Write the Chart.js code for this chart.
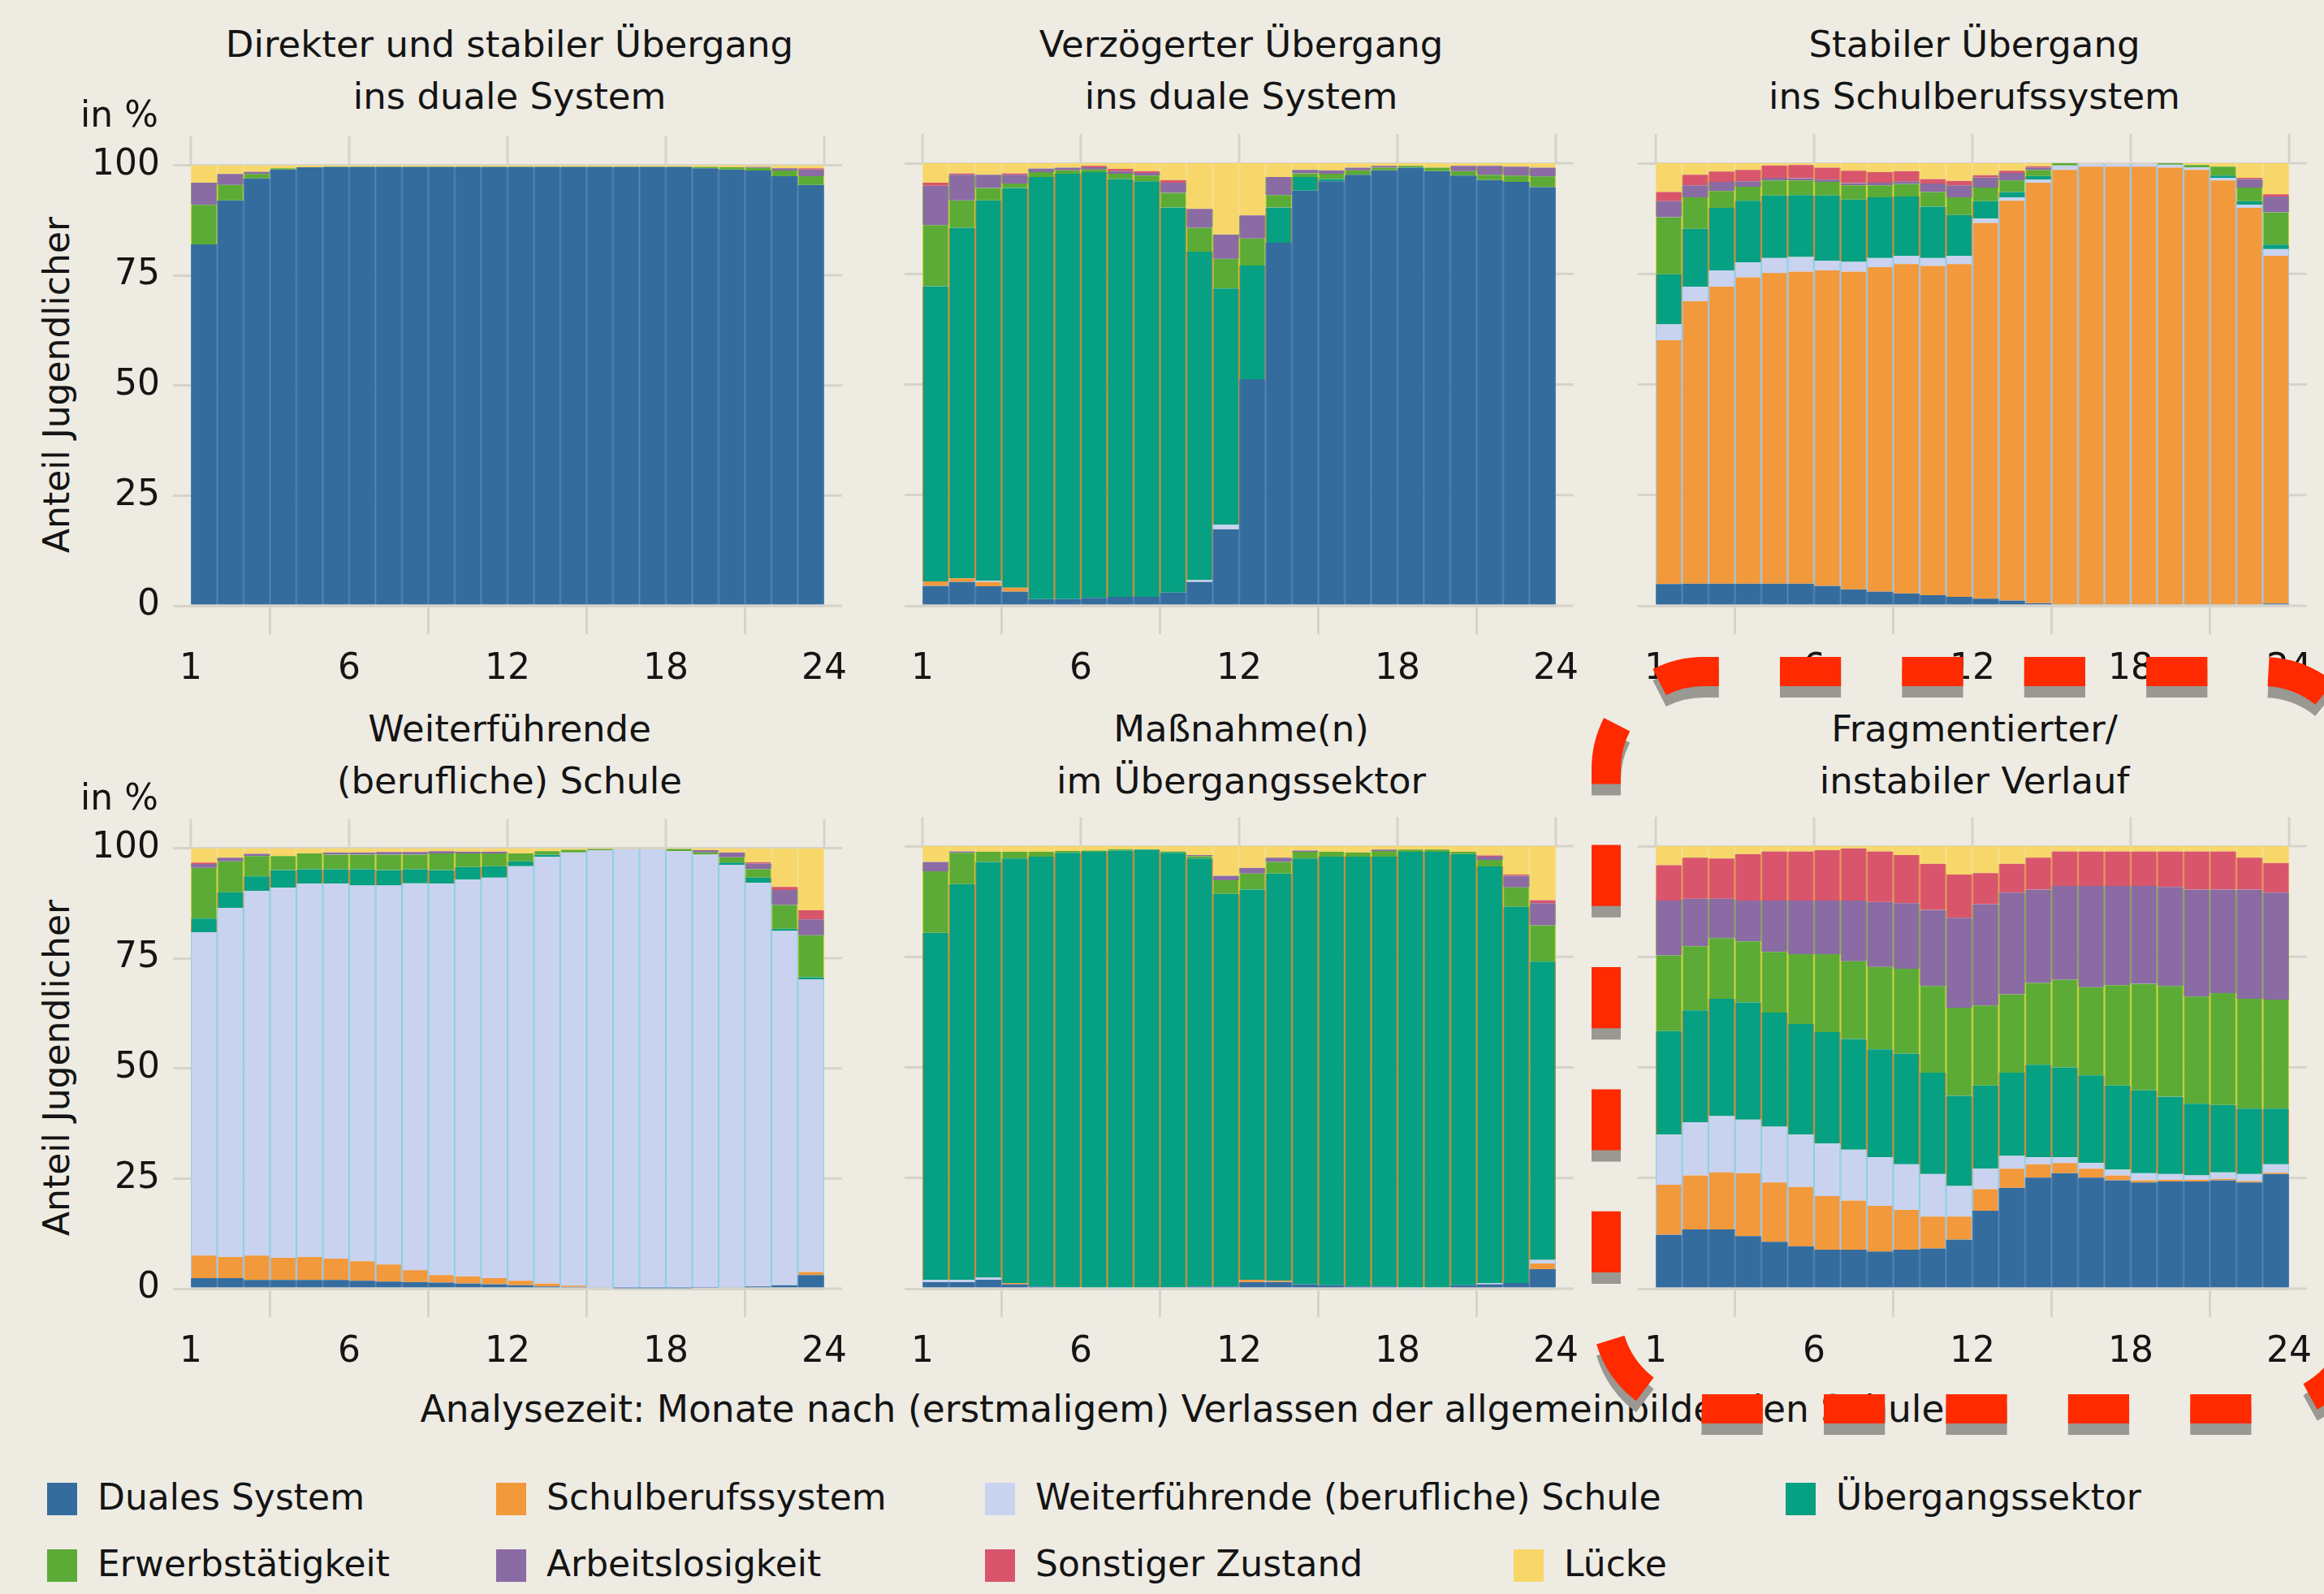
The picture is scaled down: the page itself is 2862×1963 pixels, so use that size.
<!DOCTYPE html>
<html>
<head>
<meta charset="utf-8">
<script src="https://cdn.jsdelivr.net/npm/chart.js@4.4.0/dist/chart.umd.min.js"></script>
<style>
  body { margin: 0; width: 2862px; height: 1963px; overflow: hidden; position: relative;
         background: #eeebe3; font-family: 'DejaVu Sans', sans-serif; color: #141414; }
  canvas { position: absolute; }
  .title { position: absolute; font-size: 45px; line-height: 64px; text-align: center;
           white-space: nowrap; transform: translateX(-50%); }
  .lbl { position: absolute; font-size: 44px; white-space: nowrap; }
  .key { position: absolute; width: 37px; height: 40px; }
</style>
</head>
<body>
<script>
// categories (bottom to top of each stack)
const categories = ['Duales System', 'Schulberufssystem', 'Weiterführende (berufliche) Schule',
  'Übergangssektor', 'Erwerbstätigkeit', 'Arbeitslosigkeit', 'Sonstiger Zustand', 'Lücke'];
const colors = ['#356c9e', '#f2993b', '#c9d3f0', '#06a082', '#5bab36', '#8a6ba3', '#d9556b', '#f7d769'];
const seams  = ['#4a7db0', '#a3c4df', '#8fd0e6', '#c28c3e', '#c4cf3c', '#8f9c68', '#e3925a', '#f3de86'];

const tickEdges = [0, 6, 12, 18, 24];
const tickLabels = ['1', '6', '12', '18', '24'];

// shares in % per month 1..24
// 1: Direkter und stabiler Übergang ins duale System
const direktDual    = [82,92,97,99,99.5,99.6,99.6,99.6,99.6,99.6,99.6,99.6,99.6,99.6,99.6,99.6,99.6,99.6,99.6,99.3,99,98.8,97.5,95.5];
const direktSchul   = [0,0,0,0,0,0,0,0,0,0,0,0,0,0,0,0,0,0,0,0,0,0,0,0];
const direktWeiter  = [0,0,0,0,0,0,0,0,0,0,0,0,0,0,0,0,0,0,0,0,0,0,0,0];
const direktUeberg  = [0,0,0,0,0,0,0,0,0,0,0,0,0,0,0,0,0,0,0,0,0,0,0,0];
const direktErwerb  = [9,3.5,1,0.3,0,0.1,0.1,0.1,0.1,0.1,0.1,0.1,0.1,0.1,0.1,0.1,0.1,0.1,0.1,0.3,0.5,0.6,1.3,2];
const direktArblos  = [5,2.5,0.5,0,0,0,0,0,0,0,0,0,0,0,0,0,0,0,0,0,0,0.2,0.5,1.5];
const direktSonst   = [0,0,0,0,0,0,0,0,0,0,0,0,0,0,0,0,0,0,0,0,0,0,0,0.3];
const direktLuecke  = [4,2,1.5,0.7,0.5,0.3,0.3,0.3,0.3,0.3,0.3,0.3,0.3,0.3,0.3,0.3,0.3,0.3,0.3,0.4,0.5,0.4,0.7,0.7];

// 2: Verzögerter Übergang ins duale System
const verzDual    = [4.5,5.4,4.4,3.2,1.5,1.5,1.8,2,2,3,5.4,17.3,51.2,82,93.8,95.9,97.4,98.4,99,98.2,97.2,96.2,95.8,94.6];
const verzSchul   = [1,0.8,1,0.9,0,0,0,0,0,0,0,0,0,0,0,0,0,0,0,0,0,0,0,0];
const verzWeiter  = [0,0,0.3,0,0,0,0,0,0,0,0.4,1,0,0,0,0,0,0,0,0,0,0,0,0];
const verzUeberg  = [66.7,79.2,85.9,90.3,95.4,96.1,96.2,94.4,93.9,87,74.2,53.4,25.7,8,3.1,0.5,0,0,0,0,0,0,0,0];
const verzErwerb  = [13.8,6.2,2.8,1,1.1,0.8,0.6,1.2,1.3,3.3,5.4,6.7,6.1,2.8,0.8,1.2,1,0.6,0.4,0.8,1,1.2,1.4,2.4];
const verzArblos  = [8.9,5.8,3,2,0.8,0.6,0.5,0.6,0.6,2.3,4.3,5.5,5.2,4.1,0.8,0.8,0.6,0.4,0,0,1.2,2,2,2];
const verzSonst   = [0.7,0.3,0,0.3,0,0,0.3,0.5,0.4,0.6,0,0,0,0,0,0,0,0,0,0,0,0,0,0];
const verzLuecke  = [4.4,2.3,2.6,2.3,1.2,1,0.6,1.3,1.8,3.8,10.3,16.1,11.8,3.1,1.5,1.6,1,0.6,0.6,1,0.6,0.6,0.8,1];

// 3: Stabiler Übergang ins Schulberufssystem
const schulbDual    = [4.9,5,5,5,5,5,4.5,3.7,3.2,2.8,2.4,2,1.6,1.2,0.6,0.3,0.3,0.3,0.3,0.3,0.3,0.3,0.3,0.5];
const schulbSchul   = [55.1,63.8,67.1,69.2,70.2,70.5,71.3,71.8,73.3,74.4,74.4,75.2,84.9,90.3,95,98.2,98.9,98.9,98.9,98.7,98.2,95.8,89.6,78.6];
const schulbWeiter  = [3.6,3.3,3.7,3.4,3.4,3.3,2.2,2.2,2.1,1.9,1.8,1.9,1,0.8,0.7,1,0.7,0.7,0.7,0.7,0.6,0.6,0.7,1.5];
const schulbUeberg  = [11.3,13.1,14.1,13.9,14.1,14,14.7,14.1,13.7,13.4,11.6,9.2,3.9,1.2,0.8,0,0,0,0,0,0,0.5,0.8,1];
const schulbErwerb  = [12.9,7.1,3.8,3.2,3.4,3.3,3.1,3.2,2.7,2.8,3.3,4,3.1,2.6,1.4,0.5,0,0,0,0.3,0.5,2,3.1,7.3];
const schulbArblos  = [3.6,2.7,2.1,1.2,0.6,0.5,0.5,0.5,0.6,0.6,1.9,2.7,2.3,1.7,0.5,0,0,0,0,0,0,0,1.9,3.6];
const schulbSonst   = [2.1,2.4,2.3,2.6,2.8,3,2.7,2.8,2.4,2.3,1,1,0.5,0.5,0.3,0,0,0,0,0,0,0,0.3,0.5];
const schulbLuecke  = [6.5,2.6,1.9,1.5,0.5,0.4,1,1.7,2,1.8,3.6,4,2.7,1.7,0.7,0,0.1,0.1,0.1,0,0.4,0.8,3.3,7];

// 4: Weiterführende (berufliche) Schule
const weiterDual    = [2.4,2.4,2,2,2,2,1.8,1.6,1.5,1.4,1.2,1,0.8,0.5,0.4,0.3,0.1,0.1,0.1,0.2,0.3,0.5,0.8,3.1];
const weiterSchul   = [5.1,4.8,5.5,5,5.2,4.8,4.4,3.9,2.7,1.7,1.6,1.4,1,0.7,0.3,0,0,0,0,0,0,0,0,0.7];
const weiterWeiter  = [73.4,79.2,82.8,84,84.7,85.1,85.3,86,87.8,88.8,90.1,90.9,94.1,96.8,98.3,99.2,99.7,99.7,99.2,98.3,95.9,91.6,80.4,66.4];
const weiterUeberg  = [3.1,3.6,3.3,4,3.3,3.3,3.7,3.5,3.2,3.1,2.8,2.6,1.1,0.5,0,0,0,0,0,0,0.5,1.2,0.5,0.5];
const weiterErwerb  = [11.5,7,4.6,3.2,3.6,3.3,3.3,3.5,3.3,3.8,3.1,2.9,1.8,0.8,0.6,0.3,0,0,0.5,0.5,1.2,1.9,5.4,9.5];
const weiterArblos  = [0.9,0.8,0.5,0,0,0.5,0.5,0.6,0.6,0.5,0.4,0.4,0,0,0,0,0,0,0,0.5,1.1,1.3,3.4,3.6];
const weiterSonst   = [0.3,0,0,0,0,0,0,0,0,0,0,0,0,0,0,0,0,0,0,0,0,0.3,0.7,2.1];
const weiterLuecke  = [3.3,2.2,1.3,1.8,1.2,1,1,0.9,0.9,0.7,0.8,0.8,1.2,0.7,0.4,0.2,0.2,0.2,0.2,0.5,1,3.2,8.8,14.1];

// 5: Maßnahme(n) im Übergangssektor
const massDual    = [1.5,1.5,2,1,0.5,0.3,0,0,0,0.3,0.5,0.5,1.5,1.5,1,0.8,0.5,0.5,0.3,0.3,0.8,1,1.3,4.4];
const massSchul   = [0,0,0,0.3,0,0,0,0,0,0,0,0,0.5,0.3,0,0,0,0,0,0,0,0,0,1.3];
const massWeiter  = [0.5,0.5,0.5,0,0,0,0,0,0,0,0,0,0,0,0,0,0,0,0,0,0,0.3,0,0.8];
const massUeberg  = [78.4,89.4,93.9,95.9,97.1,98.2,98.7,99,99.2,98.2,96.7,88.7,88.2,92,96.2,96.8,97.1,97.1,98.4,98.4,97.4,94.1,85,67.4];
const massErwerb  = [13.9,7.1,2.3,1.5,1.1,0.4,0.3,0.3,0,0.3,0.5,3.1,3.6,2.6,1.5,1.1,1,1.3,0.5,0.5,0.5,1.5,4.4,8.2];
const massArblos  = [2.1,0.3,0,0,0,0,0,0,0,0,0.3,1,1.3,1,0.3,0,0,0.3,0,0,0,0.7,2.6,5];
const massSonst   = [0,0,0,0,0,0,0,0,0,0,0,0,0,0,0,0,0,0,0,0,0,0.3,0.3,0.7];
const massLuecke  = [3.6,1.2,1.3,1.3,1.3,1.1,1,0.7,0.8,1.2,2,6.7,4.9,2.6,1,1.3,1.4,0.8,0.8,0.8,1.3,2.1,6.4,12.2];

// 6: Fragmentierter/instabiler Verlauf
const fragDual    = [12.2,13.4,13.4,11.9,10.6,9.6,8.8,8.8,8.4,8.8,9.1,11.1,17.6,22.8,25.1,26.1,25.1,24.5,24,24.2,24.2,24.5,24,25.9];
const fragSchul   = [11.3,12.2,12.9,14.2,13.4,13.4,12.1,11.1,10.3,9,7.2,5.2,4.9,4.3,3,2.3,2,1.1,0.5,0.4,0.4,0.3,0.3,0.3];
const fragWeiter  = [11.3,12,12.7,12.1,12.6,11.8,11.9,11.5,11,10.3,9.6,6.9,4.6,2.9,1.6,1.3,1.3,1.3,1.6,1.3,1,1.5,1.6,1.9];
const fragUeberg  = [23.4,25.3,26.5,26.5,25.8,25,25.2,25,24.4,25,22.9,20.4,18.8,18.8,20.9,20.3,19.8,19,18.7,17.5,16.2,15.2,14.8,12.6];
const fragErwerb  = [17.1,14.5,13.7,13.8,13.7,15.8,17.6,17.6,18.6,19.2,19.6,19.9,18.1,17.7,18.5,19.8,19.9,22.7,24.1,25,24.2,25.3,24.8,24.6];
const fragArblos  = [12.4,10.7,8.9,9.2,11.6,12.1,12.1,13.7,14.7,14.8,17.2,20.3,22.9,23,21.1,21.2,22.9,22.4,22.1,22.4,24.2,23.4,24.7,24.2];
const fragSonst   = [8,9.3,9.1,10.5,11.1,11.1,11.4,11.8,11.4,10.9,10.4,9.8,7,6.5,7.2,7.8,7.8,7.8,7.8,8,8.6,8.6,7.2,6.7];
const fragLuecke  = [4.3,2.6,2.8,1.8,1.2,1.2,0.9,0.5,1.2,2,4,6.4,6.1,4,2.6,1.2,1.2,1.2,1.2,1.2,1.2,1.2,2.6,3.8];

const panelTitles = [
  ['Direkter und stabiler Übergang', 'ins duale System'],
  ['Verzögerter Übergang', 'ins duale System'],
  ['Stabiler Übergang', 'ins Schulberufssystem'],
  ['Weiterführende', '(berufliche) Schule'],
  ['Maßnahme(n)', 'im Übergangssektor'],
  ['Fragmentierter/', 'instabiler Verlauf']
];
const panelSeries = [
  [direktDual, direktSchul, direktWeiter, direktUeberg, direktErwerb, direktArblos, direktSonst, direktLuecke],
  [verzDual, verzSchul, verzWeiter, verzUeberg, verzErwerb, verzArblos, verzSonst, verzLuecke],
  [schulbDual, schulbSchul, schulbWeiter, schulbUeberg, schulbErwerb, schulbArblos, schulbSonst, schulbLuecke],
  [weiterDual, weiterSchul, weiterWeiter, weiterUeberg, weiterErwerb, weiterArblos, weiterSonst, weiterLuecke],
  [massDual, massSchul, massWeiter, massUeberg, massErwerb, massArblos, massSonst, massLuecke],
  [fragDual, fragSchul, fragWeiter, fragUeberg, fragErwerb, fragArblos, fragSonst, fragLuecke]
];

// layout of plot areas (page pixels)
const colX = [235, 1136, 2039];
const rowY = [201, 1042];
const plotW = 785, plotH = 545;
const PAD_L = 140, PAD_R = 40, PAD_T = 40, PAD_B = 120;
const GRID = '#d6d3cb';

Chart.defaults.font.family = "'DejaVu Sans', sans-serif";
Chart.defaults.font.size = 44;
Chart.defaults.color = '#141414';

// grid lines stick out a bit above and to the right of the plot
const gridOut = {
  id: 'gridOut',
  beforeDatasetsDraw(chart) {
    const { ctx, chartArea: a, scales: { x, y } } = chart;
    ctx.save();
    ctx.strokeStyle = GRID;
    ctx.lineWidth = 3;
    ctx.beginPath();
    x.ticks.forEach(t => {
      const px = x.getPixelForValue(t.value);
      ctx.moveTo(px, a.top - 36); ctx.lineTo(px, a.top);
    });
    y.ticks.forEach(t => {
      const py = y.getPixelForValue(t.value);
      ctx.moveTo(a.right, py); ctx.lineTo(a.right + 22, py);
    });
    ctx.stroke();
    ctx.restore();
  }
};

function addText(cls, text, css) {
  const d = document.createElement('div');
  d.className = cls;
  d.innerHTML = text;
  Object.assign(d.style, css);
  document.body.appendChild(d);
  return d;
}

panelSeries.forEach((series, p) => {
  const col = p % 3, row = Math.floor(p / 3);
  const px = colX[col], py = rowY[row];
  const showY = col === 0;

  const cv = document.createElement('canvas');
  cv.width = plotW + PAD_L + PAD_R;
  cv.height = plotH + PAD_T + PAD_B;
  cv.style.left = (px - PAD_L) + 'px';
  cv.style.top = (py - PAD_T) + 'px';
  document.body.appendChild(cv);

  new Chart(cv, {
    type: 'bar',
    data: {
      datasets: categories.map((name, k) => ({
        label: name,
        data: series[k].map((v, i) => ({ x: i + 0.5, y: v })),
        backgroundColor: colors[k],
        borderColor: seams[k],
        borderWidth: { left: 1.5, right: 1.5, top: 0, bottom: 0 },
        borderSkipped: false,
        barPercentage: 1,
        categoryPercentage: 1
      }))
    },
    options: {
      responsive: false,
      animation: false,
      layout: { padding: { top: PAD_T, right: PAD_R, left: 0, bottom: 0 } },
      plugins: { legend: { display: false }, tooltip: { enabled: false } },
      scales: {
        x: {
          type: 'linear', stacked: true, min: 0, max: 24, offset: false,
          afterBuildTicks: s => { s.ticks = tickEdges.map(v => ({ value: v })); },
          afterFit: s => { s.height = PAD_B; },
          ticks: { callback: (v, i) => tickLabels[i], maxRotation: 0, autoSkip: false, padding: 17 },
          grid: { color: GRID, lineWidth: 3, tickLength: 35 },
          border: { display: false }
        },
        y: {
          stacked: true, min: 0, max: 100,
          afterFit: s => { s.width = PAD_L; },
          ticks: { stepSize: 25, display: showY, padding: 16 },
          grid: { color: GRID, lineWidth: 3, tickLength: 22 },
          border: { display: false }
        }
      }
    },
    plugins: [gridOut]
  });

  const ty = row === 0 ? 23 : 866;
  addText('title', panelTitles[p].join('<br>'), { left: (px + plotW / 2) + 'px', top: ty + 'px' });
});

// y-axis labels on left column
rowY.forEach((py, r) => {
  addText('lbl', 'in %', { right: (2862 - 195) + 'px', top: (py - 86) + 'px' });
  addText('lbl', 'Anteil Jugendlicher', {
    left: '69px', top: (py + plotH / 2) + 'px',
    transform: 'translate(-50%, -50%) rotate(-90deg)'
  });
});

addText('lbl', 'Analysezeit: Monate nach (erstmaligem) Verlassen der allgemeinbildenden Schule',
  { left: '1456px', top: '1709px', transform: 'translateX(-50%)', fontSize: '45.5px' });

// legend
const legendBoxX = [58, 611, 1213, 2199, 58, 611, 1213, 1864];
const legendRowY = [1846, 1928];
categories.forEach((name, k) => {
  const cx = legendBoxX[k], cy = legendRowY[Math.floor(k / 4)];
  const sw = document.createElement('div');
  sw.className = 'key';
  sw.style.left = cx + 'px';
  sw.style.top = (cy - 20) + 'px';
  sw.style.background = colors[k];
  document.body.appendChild(sw);
  addText('lbl', name, { left: (cx + 62) + 'px', top: (cy - 28) + 'px' });
});
</script>
<svg width="2862" height="1963" style="position:absolute;left:0;top:0;pointer-events:none">
  <defs>
    <path id="hl" d="M1978 1615 L1978 947 A120 120 0 0 1 2098 827 L2787 827 A120 120 0 0 1 2907 947
                     L2907 1615 A120 120 0 0 1 2787 1735 L2098 1735 A120 120 0 0 1 1978 1615 Z"/>
  </defs>
  <use href="#hl" transform="translate(0,14)" fill="none" stroke="#9a9893" stroke-width="36"
       stroke-dasharray="75.2 75.2" stroke-dashoffset="102.4"/>
  <use href="#hl" fill="none" stroke="#ff2a00" stroke-width="36"
       stroke-dasharray="75.2 75.2" stroke-dashoffset="102.4"/>
</svg>
</body>
</html>
